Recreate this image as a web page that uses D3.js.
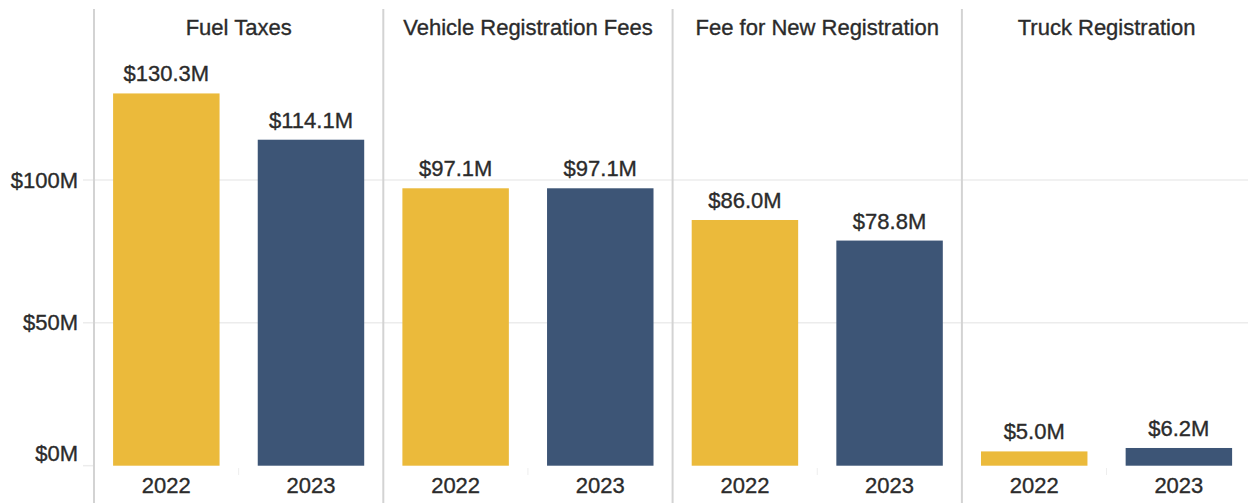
<!DOCTYPE html>
<html>
<head>
<meta charset="utf-8">
<script src="https://cdn.jsdelivr.net/npm/d3@7"></script>
<style>
  body { margin: 0; background: #fff; }
  text { font-family: "Liberation Sans", Arial, sans-serif; fill: #2b2b2b; stroke: #2b2b2b; stroke-width: 0.35px; }
</style>
</head>
<body>
<svg id="chart" width="1248" height="503"></svg>
<script>
// Data
var categories = ['Fuel Taxes', 'Vehicle Registration Fees', 'Fee for New Registration', 'Truck Registration'];
var years = ['2022', '2023'];
var values2022 = [130.3, 97.1, 86.0, 5.0];
var values2023 = [114.1, 97.1, 78.8, 6.2];
var yTicks = [0, 50, 100];

var colors = {'2022': '#ebba3b', '2023': '#3d5576'};

var svg = d3.select('#chart');
var panelW = 289.3;
var left = 94;
var fontSize = 22;

// scales
var xPanel = d3.scaleBand().domain(categories).range([left, left + panelW * categories.length]);
var xYear = d3.scaleBand().domain(years).range([0, panelW]).paddingInner(0.264).paddingOuter(0.132);
var yScale = d3.scaleLinear().domain([0, 100]).range([465.7, 180]);

// gridlines
svg.append('g').selectAll('line')
    .data(yTicks.filter(d => d > 0)).enter()
    .append('line')
    .attr('x1', 83).attr('x2', 1248)
    .attr('y1', d => yScale(d)).attr('y2', d => yScale(d))
    .attr('stroke', '#ececec').attr('stroke-width', 1.5);

// zero tick stub
svg.append('line')
    .attr('x1', 83).attr('x2', left)
    .attr('y1', yScale(0)).attr('y2', yScale(0))
    .attr('stroke', '#ececec').attr('stroke-width', 1.5);

// y axis labels
var yAxis = d3.axisLeft(yScale).tickValues(yTicks).tickSize(0).tickPadding(0)
    .tickFormat(d => '$' + d + 'M');
var yAxisG = svg.append('g').attr('transform', 'translate(78,0)').call(yAxis);
yAxisG.select('.domain').remove();
yAxisG.selectAll('text')
    .attr('font-size', fontSize)
    .attr('font-family', '"Liberation Sans", Arial, sans-serif')
    .attr('fill', '#2b2b2b')
    .attr('dy', d => d === 0 ? '-0.25em' : '0.32em');

// panel separators
svg.append('g').selectAll('line')
    .data(categories).enter()
    .append('line')
    .attr('x1', d => xPanel(d)).attr('x2', d => xPanel(d))
    .attr('y1', 9).attr('y2', 503)
    .attr('stroke', '#d3d3d3').attr('stroke-width', 2);

var rows = [];
categories.forEach(function(c, i) {
    rows.push({cat: c, year: '2022', value: values2022[i]});
    rows.push({cat: c, year: '2023', value: values2023[i]});
});

var panels = svg.selectAll('.panel')
    .data(categories).enter()
    .append('g')
    .attr('class', 'panel')
    .attr('transform', d => 'translate(' + xPanel(d) + ',0)');

// panel titles
panels.append('text')
    .attr('x', panelW / 2)
    .attr('y', 35)
    .attr('text-anchor', 'middle')
    .attr('font-size', fontSize)
    .text(d => d);

// small faint tick between bars
panels.append('line')
    .attr('x1', panelW / 2).attr('x2', panelW / 2)
    .attr('y1', 468).attr('y2', 475)
    .attr('stroke', '#eeeeee').attr('stroke-width', 1);

// bars
panels.selectAll('rect')
    .data(c => rows.filter(r => r.cat === c)).enter()
    .append('rect')
    .attr('x', d => xYear(d.year))
    .attr('width', xYear.bandwidth())
    .attr('y', d => yScale(d.value))
    .attr('height', d => yScale(0) - yScale(d.value))
    .attr('fill', d => colors[d.year]);

// value labels
panels.selectAll('.val')
    .data(c => rows.filter(r => r.cat === c)).enter()
    .append('text')
    .attr('class', 'val')
    .attr('x', d => xYear(d.year) + xYear.bandwidth() / 2)
    .attr('y', d => yScale(d.value) - 12)
    .attr('text-anchor', 'middle')
    .attr('font-size', fontSize)
    .text(d => '$' + d.value.toFixed(1) + 'M');

// year labels
panels.selectAll('.yr')
    .data(years).enter()
    .append('text')
    .attr('class', 'yr')
    .attr('x', d => xYear(d) + xYear.bandwidth() / 2)
    .attr('y', 493)
    .attr('text-anchor', 'middle')
    .attr('font-size', fontSize)
    .text(d => d);
</script>
</body>
</html>
